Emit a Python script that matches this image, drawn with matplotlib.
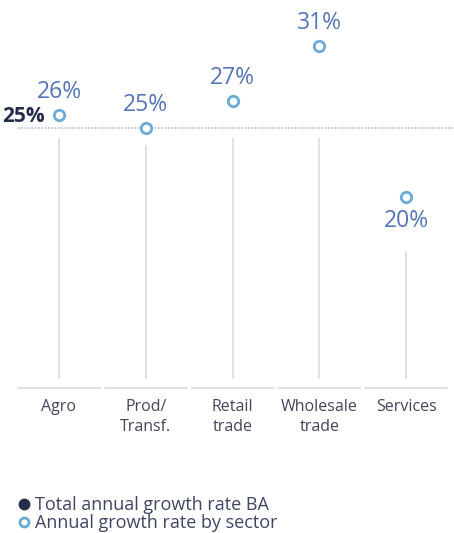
import matplotlib.pyplot as plt
from matplotlib.lines import Line2D

plt.rcParams['font.family'] = ['Open Sans', 'DejaVu Sans']

# growth rates by sector (%)
sectors = ['Agro', 'Prod/\nTransf.', 'Retail\ntrade', 'Wholesale\ntrade', 'Services']
growth = [26, 25, 27, 31, 20]
total_ba = 25

navy = '#252c4a'
blue_txt = '#5475b6'
blue_mk = '#6aaad6'
grey_ln = '#d9dbe3'
grey_txt = '#43465a'

fig = plt.figure(figsize=(4.54, 5.33), dpi=100)
ax = fig.add_axes([0, 0, 1, 1])
ax.set_xlim(-0.68, 4.553)
ax.set_ylim(-4.48, 34.35)
ax.axis('off')

base_y = 6.1   # level of the category baselines
line_bot = 6.8

# dotted reference line for the overall rate
ax.plot([-0.47, 4.6], [total_ba, total_ba], color='#b9bccb', lw=1.2,
        ls=(0, (1, 1)), zorder=1)
ax.text(-0.655, total_ba + 0.1, f'{total_ba}%', color=navy, fontsize=15,
        fontweight='bold', ha='left', va='bottom')

for i, (name, v) in enumerate(zip(sectors, growth)):
    below = v < total_ba - 2
    if below:
        top = v - 4.0
        ax.text(i, v - 0.9, f'{v}%', color=blue_txt, fontsize=16.5,
                ha='center', va='top')
    else:
        top = min(v - 1.3, total_ba - 0.75)
        ax.text(i, v + 0.8, f'{v}%', color=blue_txt, fontsize=16.5,
                ha='center', va='bottom')
    ax.plot([i, i], [line_bot, top], color=grey_ln, lw=1.2, zorder=1)
    ax.plot(i, v, 'o', ms=7.5, mfc='white', mec=blue_mk, mew=2, zorder=3)
    ax.plot([i - 0.47, i + 0.47], [base_y, base_y], color=grey_ln, lw=1.2)
    ax.text(i, base_y - 0.85, name, color=grey_txt, fontsize=11.5,
            ha='center', va='top', linespacing=1.3)

handles = [
    Line2D([], [], marker='o', ls='', ms=7.5, mfc=navy, mec=navy),
    Line2D([], [], marker='o', ls='', ms=6.5, mfc='white', mec=blue_mk, mew=2),
]
leg = fig.legend(handles, ['Total annual growth rate BA', 'Annual growth rate by sector'],
                 loc='lower left', bbox_to_anchor=(0.02, -0.015), frameon=False,
                 handlelength=0.6, handletextpad=0.35, labelspacing=0.0,
                 fontsize=13, borderaxespad=0.1)
for t in leg.get_texts():
    t.set_color('#3f4563')

fig.savefig('out.png', dpi=100)
